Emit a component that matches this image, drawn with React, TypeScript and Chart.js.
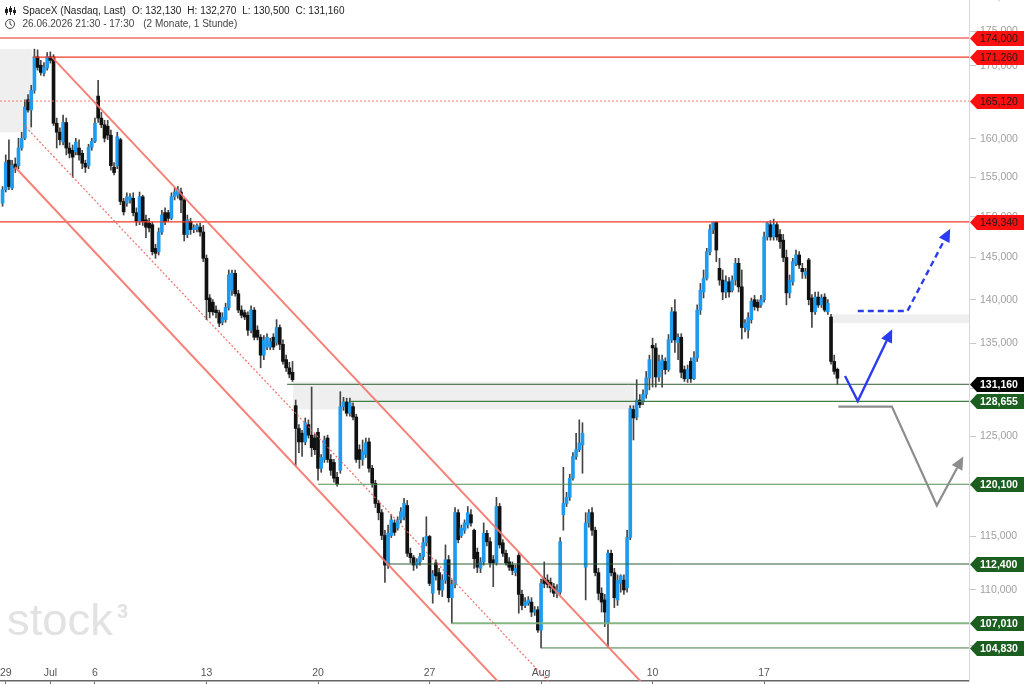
import React, { useEffect, useRef } from "react";
import { Chart, registerables } from "chart.js";

Chart.register(...registerables);

const FONT = 'Arial, "Liberation Sans", Helvetica, sans-serif';
const UP = "#1e9bef";
const DOWN = "#111111";

// ---- hourly candles, prices in thousands (USD) ----
const opens = [
  151.7,153.4,157.2,153.6,156.7,156.5,158.8,160.1,165.3,163.9,
  166.6,171.3,170.1,169.0,169.7,171.3,171.3,162.1,160.9,159.6,
  162.2,158.8,158.5,158.3,158.8,158.1,156.8,156.5,158.9,159.7,
  165.8,162.8,161.9,161.7,160.5,156.3,156.5,159.9,151.9,151.7,
  152.1,152.3,150.5,149.4,152.5,149.6,149.2,149.0,146.1,145.7,
  148.1,150.5,150.5,149.8,152.5,152.7,153.1,152.1,147.8,149.4,
  148.4,148.4,148.7,148.1,144.9,140.2,139.7,138.8,138.5,137.4,
  137.7,139.1,141.1,143.1,140.7,138.8,138.5,138.2,136.5,138.8,
  136.5,135.7,133.7,134.6,134.6,135.7,135.1,136.8,134.9,133.2,
  132.3,131.8,128.2,125.8,125.3,124.4,126.2,125.1,124.8,125.4,
  121.7,122.6,124.8,122.6,122.3,120.8,121.5,128.1,128.6,127.4,
  128.1,127.0,123.6,122.6,123.1,124.4,121.7,120.2,118.2,117.3,
  115.1,112.3,115.1,116.3,115.8,116.6,116.9,118.0,113.4,113.0,
  112.3,112.6,113.1,114.4,115.0,109.7,112.5,111.6,110.0,110.9,
  112.8,109.3,110.5,117.3,115.1,115.6,116.1,117.1,115.6,113.5,
  112.0,112.6,115.3,114.5,112.8,112.5,117.9,114.4,113.4,112.6,
  112.3,111.6,113.2,109.6,108.6,108.8,108.9,108.0,108.2,106.4,
  111.1,110.9,110.7,110.3,109.7,109.8,117.1,118.2,118.8,120.7,
  122.9,123.6,124.1,112.1,116.3,117.3,115.6,111.6,109.7,109.1,
  107.0,113.4,111.6,109.1,110.6,110.9,110.2,114.9,127.8,127.0,
  128.8,128.6,129.4,131.2,134.8,134.5,131.3,132.1,133.0,132.1,
  135.4,138.6,135.1,135.7,132.1,131.1,133.0,131.1,133.4,138.8,
  140.9,142.5,145.7,148.4,149.3,143.7,142.3,140.9,142.1,141.1,
  142.3,144.3,141.5,136.8,136.5,137.7,140.0,139.7,139.4,140.0,
  147.5,149.0,147.5,149.0,147.8,147.1,145.0,140.8,142.1,144.3,
  145.3,143.7,142.9,144.7,140.2,138.6,140.3,139.4,140.3,138.6,
  138.0,133.0,132.13,
];
const highs = [
  153.8,157.9,159.9,157.2,157.5,160.1,160.9,165.3,166.0,167.3,
  172.4,172.3,170.8,170.5,171.9,172.0,171.6,162.8,161.5,163.2,
  162.8,159.5,159.2,160.1,159.9,158.5,157.2,159.3,160.1,162.8,
  168.0,163.6,162.5,162.5,161.2,156.9,160.9,160.1,152.3,153.0,
  152.9,153.0,151.1,153.1,152.7,150.2,149.8,149.3,146.6,148.6,
  150.8,151.1,150.8,153.0,153.6,153.8,153.6,152.3,150.2,149.8,
  149.0,149.1,149.2,148.9,145.3,140.6,140.0,139.3,138.8,138.5,
  139.6,143.5,143.5,143.5,141.1,139.3,138.8,138.6,139.3,139.1,
  137.0,136.0,135.9,136.1,135.6,136.1,137.7,137.1,135.4,133.7,
  132.9,133.0,128.8,126.2,125.6,126.9,126.7,130.2,125.2,125.8,
  123.1,125.0,125.1,123.1,122.6,121.3,129.7,129.1,129.0,129.0,
  128.5,127.3,124.1,124.6,124.8,124.8,122.0,120.5,118.5,117.6,
  115.6,116.1,117.1,116.6,116.9,117.8,118.7,118.5,113.9,113.2,
  112.9,113.4,114.9,116.9,115.1,111.8,112.8,112.0,111.4,114.2,
  113.2,110.9,117.8,117.6,116.1,116.6,117.9,117.6,115.7,113.9,
  113.0,116.3,115.6,114.9,113.2,118.8,118.2,114.7,113.7,113.0,
  112.6,112.3,113.5,110.0,109.3,109.4,109.3,108.5,108.5,111.0,
  112.6,111.4,111.1,110.6,110.5,114.9,121.8,119.3,121.1,123.3,
  125.3,126.7,126.4,117.3,117.6,117.8,115.9,112.0,110.2,109.6,
  113.7,113.7,112.0,111.4,111.4,111.4,115.6,128.2,128.2,131.0,
  129.4,129.9,131.9,133.7,135.6,135.0,133.7,133.7,133.4,136.0,
  139.1,140.0,136.1,136.1,132.5,132.6,133.4,134.1,139.4,141.9,
  143.5,146.1,149.0,149.34,149.34,144.9,143.5,142.8,142.6,142.8,
  144.9,144.9,143.5,137.7,138.5,140.2,140.5,140.0,140.5,148.1,
  149.3,149.5,149.7,149.3,148.4,147.8,145.9,142.9,144.9,145.9,
  145.7,144.3,143.7,144.9,140.6,140.9,140.9,140.6,140.7,140.0,
  138.3,133.7,132.27,
];
const lows = [
  151.3,153.1,153.4,153.4,155.6,156.1,158.5,159.9,163.6,161.6,
  166.2,169.4,168.7,168.6,169.4,170.4,161.8,158.8,159.2,159.2,
  157.9,157.5,155.0,157.9,157.2,156.1,155.6,156.1,158.5,159.5,
  162.2,161.5,159.6,159.9,155.9,155.3,156.1,151.5,150.2,151.3,
  151.7,150.1,148.9,149.0,148.9,147.4,148.1,145.3,144.9,145.3,
  147.8,149.0,149.4,149.6,152.1,152.3,150.5,147.0,147.4,147.8,
  148.0,148.1,147.6,144.5,137.7,137.9,138.2,137.9,136.9,137.1,
  137.4,138.8,140.5,140.4,138.5,137.9,137.7,135.9,136.2,135.4,
  135.4,132.3,133.2,134.3,134.3,134.3,134.8,134.3,132.7,131.9,
  131.2,130.8,122.0,123.3,122.9,124.1,124.8,122.9,123.1,120.5,
  121.3,122.3,122.3,121.0,120.3,119.9,121.2,127.7,127.1,127.1,
  126.7,122.3,121.7,122.0,122.8,121.3,119.8,117.8,116.6,114.7,
  110.7,112.0,114.9,115.1,115.6,116.3,116.6,113.1,112.5,111.8,
  112.0,112.3,112.8,114.1,110.4,108.8,110.9,109.6,109.4,110.6,
  108.9,107.01,110.2,114.4,114.9,115.3,115.8,116.0,112.0,111.6,
  111.6,112.3,114.1,112.1,110.3,112.3,113.9,113.1,112.3,111.8,
  111.4,111.3,107.9,108.2,108.4,108.6,107.6,107.7,106.2,104.83,
  110.2,110.2,109.8,109.4,109.3,109.6,115.6,117.9,118.5,120.5,
  122.6,123.4,121.2,109.1,115.9,115.1,111.3,109.1,108.0,106.7,
  104.9,111.3,108.4,108.6,109.8,109.6,109.8,114.7,124.6,126.7,
  128.0,128.3,129.0,129.9,130.2,130.2,130.8,130.2,131.6,131.9,
  135.1,134.0,133.2,131.2,130.8,130.7,130.7,131.0,133.0,138.3,
  140.2,142.3,145.3,147.9,144.5,141.7,140.0,140.2,140.3,140.9,
  141.7,140.9,135.5,136.3,135.6,137.3,138.8,138.7,139.1,139.7,
  147.1,147.1,147.1,147.1,146.1,144.5,139.4,140.2,141.7,144.0,
  143.7,142.5,142.5,139.4,136.8,138.3,139.1,139.1,138.6,138.3,
  132.7,131.6,130.5,
];
const closes = [
  153.4,156.9,153.8,156.5,156.2,158.8,160.1,164.3,163.9,166.6,
  171.3,169.8,169.1,169.8,171.3,170.8,162.1,160.9,159.9,162.2,
  158.8,158.1,157.6,159.6,157.9,156.8,156.3,158.9,159.7,162.1,
  162.8,161.9,160.1,160.5,156.5,155.6,160.3,151.9,150.6,152.5,
  152.5,150.5,149.4,152.5,149.4,148.7,148.6,145.7,145.5,148.1,
  150.2,149.4,149.8,152.5,153.1,153.4,152.1,147.8,149.6,148.4,
  148.6,148.9,148.1,144.9,140.0,138.6,138.6,138.5,137.3,138.0,
  139.1,142.9,143.1,140.7,138.8,138.2,138.0,136.5,138.8,135.7,
  135.7,133.7,135.4,135.7,135.2,134.6,136.8,134.9,133.0,132.3,
  131.6,131.0,125.8,124.4,124.4,126.4,125.1,123.8,123.6,121.7,
  122.8,124.6,122.6,121.5,120.7,120.1,128.1,128.6,127.4,128.5,
  127.0,122.6,122.6,123.4,124.3,121.7,120.2,118.2,117.3,115.1,
  112.3,115.3,116.6,115.4,116.6,117.4,118.2,113.4,113.0,112.3,
  112.6,113.1,114.4,115.0,110.6,111.5,111.3,110.0,110.9,112.8,
  109.3,110.5,117.3,114.7,115.8,116.3,117.3,116.3,112.9,112.1,
  112.6,115.3,114.5,112.5,112.5,117.9,114.2,113.4,112.5,112.1,
  111.8,112.0,109.6,108.6,108.9,109.1,108.0,108.2,106.4,110.6,
  110.6,110.5,110.2,109.7,110.0,114.5,118.2,118.8,120.7,122.9,
  123.6,124.3,125.3,116.3,117.3,115.6,111.6,109.7,108.9,108.0,
  113.4,111.6,109.3,110.9,111.3,110.0,114.9,127.9,126.9,128.8,
  128.3,129.4,131.2,133.2,134.5,131.3,133.0,133.2,132.1,135.4,
  138.6,135.4,135.7,131.8,131.1,132.1,131.1,133.4,138.8,141.1,
  142.5,145.7,148.4,149.3,145.9,142.3,140.9,142.1,140.9,142.3,
  144.3,141.5,136.8,137.3,137.9,139.8,139.2,139.1,140.0,147.5,
  149.2,147.5,149.0,147.5,146.9,145.0,140.8,142.3,144.5,145.3,
  144.1,143.3,143.3,140.0,138.6,140.3,139.4,140.2,138.8,139.6,
  133.0,131.9,131.16,
];

// ---- time axis (candle index of first bar of each labelled day) ----
const dateLabels = ["29", "Jul", "6", "13", "20", "27", "Aug", "10", "17"];
const dateIdx = [1, 15, 29, 64, 99, 134, 169, 204, 239];

// ---- price axis ticks (thousands) ----
const yTicks = [105, 110, 115, 120, 125, 130, 135, 140, 145, 150, 155, 160, 165, 170, 175, 180];

// ---- horizontal levels (thousands) ----
const levelValues = [174, 171.26, 165.12, 149.34, 130.5, 128.655, 120.1, 112.4, 107.01, 104.83];
const levelStart = [-0.8, 9.5, -0.8, -0.8, 89.3, 109, 99, 120.6, 141, 169];
const levelLabels = [174000, 171260, 165120, 149340, 131160, 128655, 120100, 112400, 107010, 104830];
const levelKinds = ["r", "r", "r", "r", "k", "g", "g", "g", "g", "g"];

// ---- trend channel (index, thousands) ----
const channelX = [[15.5, 202.8], [3.9, 159.4], [6.4, 175.3]];
const channelY = [[171.26, 101.24], [156.32, 100.82], [162.0, 100.82]];

// ---- shaded zones ----
const zoneX0 = [-0.8, 91.2, 260.3];
const zoneX1 = [9.2, 198.2, 303.3];
const zoneLo = [160.9, 127.8, 137.3];
const zoneHi = [172.4, 130.8, 138.3];

// ---- scenario arrows ----
const blueSolidX = [264.4, 268.4, 279.2];
const blueSolidY = [131.4, 128.7, 136.6];
const blueDashX = [268.4, 284.0, 297.4];
const blueDashY = [138.7, 138.7, 148.5];
const grayX = [262.3, 279.1, 293.2, 301.5];
const grayY = [128.1, 128.1, 118.0, 122.9];

const X_MIN = -0.8;
const X_MAX = 303.3;
const Y_MIN = 101.99;
const Y_MAX = 179.58;

const fmt = (v: number) => Math.round(v * 1000).toLocaleString("en-US");

function drawArrow(ctx: any, pts: number[][], color: string, lw: number, dash: number[]) {
  const n = pts.length;
  const [tx, ty] = pts[n - 1];
  const [px, py] = pts[n - 2];
  const ang = Math.atan2(ty - py, tx - px);
  const L = 13;
  const W = 6;
  const bx = tx - L * Math.cos(ang);
  const by = ty - L * Math.sin(ang);
  ctx.save();
  ctx.strokeStyle = color;
  ctx.lineWidth = lw;
  ctx.setLineDash(dash);
  ctx.lineJoin = "miter";
  ctx.beginPath();
  ctx.moveTo(pts[0][0], pts[0][1]);
  for (let i = 1; i < n - 1; i++) ctx.lineTo(pts[i][0], pts[i][1]);
  ctx.lineTo(bx, by);
  ctx.stroke();
  ctx.setLineDash([]);
  ctx.fillStyle = color;
  ctx.beginPath();
  ctx.moveTo(tx, ty);
  ctx.lineTo(bx + W * Math.sin(ang), by - W * Math.cos(ang));
  ctx.lineTo(bx - W * Math.sin(ang), by + W * Math.cos(ang));
  ctx.closePath();
  ctx.fill();
  ctx.restore();
}

const decorPlugin = {
  id: "decor",
  beforeDraw(chart: any) {
    const ctx = chart.ctx;
    ctx.save();
    ctx.fillStyle = "#ffffff";
    ctx.fillRect(0, 0, chart.width, chart.height);
    ctx.restore();
  },
  beforeDatasetsDraw(chart: any) {
    const ctx = chart.ctx;
    const xs = chart.scales.x;
    const ys = chart.scales.y;
    ctx.save();
    ctx.fillStyle = "#efefef";
    for (let i = 0; i < zoneX0.length; i++) {
      const x0 = xs.getPixelForValue(zoneX0[i]);
      const x1 = xs.getPixelForValue(zoneX1[i]);
      const y0 = ys.getPixelForValue(zoneHi[i]);
      const y1 = ys.getPixelForValue(zoneLo[i]);
      ctx.fillRect(x0, y0, x1 - x0, y1 - y0);
    }
    // watermark
    ctx.fillStyle = "#e2e2e2";
    ctx.font = `44px ${FONT}`;
    const w = ctx.measureText("stock").width;
    ctx.save();
    ctx.translate(7, 635);
    ctx.scale(106 / w, 1);
    ctx.textBaseline = "alphabetic";
    ctx.fillText("stock", 0, 0);
    ctx.restore();
    ctx.font = `bold 20px ${FONT}`;
    ctx.fillText("3", 117, 618);
    ctx.restore();
  },
  afterDatasetsDraw(chart: any) {
    const ctx = chart.ctx;
    const xs = chart.scales.x;
    const ys = chart.scales.y;
    const toPts = (X: number[], Y: number[]) =>
      X.map((x, i) => [xs.getPixelForValue(x), ys.getPixelForValue(Y[i])]);
    ctx.save();
    ctx.beginPath();
    ctx.rect(0, 0, chart.width, chart.height);
    ctx.clip();
    drawArrow(ctx, toPts(grayX, grayY), "#8d8d8d", 2.2, []);
    drawArrow(ctx, toPts(blueSolidX, blueSolidY), "#2b3cf0", 2.4, []);
    drawArrow(ctx, toPts(blueDashX, blueDashY), "#2b3cf0", 2.4, [6, 4]);
    ctx.restore();
  },
  afterDraw(chart: any) {
    const ctx = chart.ctx;
    const xs = chart.scales.x;
    const ys = chart.scales.y;
    ctx.save();
    // price tags
    for (let i = 0; i < levelValues.length; i++) {
      const y = Math.round(ys.getPixelForValue(levelValues[i])) + 0.5;
      const kind = levelKinds[i];
      const fill = kind === "r" ? "#ff1010" : kind === "k" ? "#000000" : "#1b5e20";
      ctx.fillStyle = fill;
      ctx.beginPath();
      ctx.moveTo(970, y);
      ctx.lineTo(977, y - 7.5);
      ctx.lineTo(1024, y - 7.5);
      ctx.lineTo(1024, y + 7.5);
      ctx.lineTo(977, y + 7.5);
      ctx.closePath();
      ctx.fill();
      ctx.fillStyle = kind === "r" ? "#1a1a1a" : "#ffffff";
      ctx.font = kind === "r" ? `10.5px ${FONT}` : `bold 10.5px ${FONT}`;
      ctx.textAlign = "left";
      ctx.textBaseline = "middle";
      ctx.fillText(fmt(levelLabels[i] / 1000), 980, y + 0.5);
    }
    // date labels
    ctx.fillStyle = "#555555";
    ctx.font = `10.5px ${FONT}`;
    ctx.textAlign = "center";
    ctx.textBaseline = "middle";
    for (let i = 0; i < dateLabels.length; i++) {
      ctx.fillText(dateLabels[i], xs.getPixelForValue(dateIdx[i]), 673);
    }
    // header
    const last = closes.length - 1;
    ctx.textAlign = "left";
    ctx.font = `10px ${FONT}`;
    ctx.fillStyle = "#222222";
    ctx.fillRect(6, 7, 1, 8);
    ctx.fillRect(5, 9, 3, 4);
    ctx.fillRect(10, 6, 1, 9);
    ctx.fillRect(9, 8, 3, 4);
    ctx.fillRect(14, 7, 1, 8);
    ctx.fillRect(13, 10, 3, 3);
    const parts1 = [
      "SpaceX (Nasdaq, Last)",
      "O: " + fmt(opens[last]),
      "H: " + fmt(highs[last]),
      "L: " + fmt(lows[last]),
      "C: " + fmt(closes[last]),
    ];
    let hx = 22.5;
    for (const p of parts1) {
      ctx.fillText(p, hx, 11);
      hx += ctx.measureText(p).width + 6;
    }
    ctx.fillStyle = "#444444";
    ctx.strokeStyle = "#444444";
    ctx.lineWidth = 1;
    ctx.beginPath();
    ctx.arc(10, 24, 4.5, 0, Math.PI * 2);
    ctx.moveTo(10, 21);
    ctx.lineTo(10, 24);
    ctx.lineTo(12, 25.5);
    ctx.stroke();
    const parts2 = ["26.06.2026 21:30 - 17:30", "(2 Monate, 1 Stunde)"];
    hx = 22.5;
    for (const p of parts2) {
      ctx.fillText(p, hx, 24);
      hx += ctx.measureText(p).width + 9;
    }
    ctx.restore();
  },
};

export default function App() {
  const ref = useRef<HTMLCanvasElement>(null);

  useEffect(() => {
    document.body.style.margin = "0";
    const canvas = ref.current;
    if (!canvas) return;

    const idx = opens.map((_, i) => i);
    const wickData = idx.map((i) => ({ x: i, y: [lows[i], highs[i]] }));
    const bodyData = idx.map((i) => ({ x: i, y: [opens[i], closes[i]] }));
    const bodyColors = idx.map((i) => (closes[i] >= opens[i] ? UP : DOWN));

    const levelColors = [
      "rgba(242,110,100,0.75)", "#f0392b", "rgba(242,110,100,0.9)", "#f0392b",
      "#2f5f34", "#3f7f45", "#4f8f55", "#2f5f34", "rgba(120,175,120,0.9)", "#3f7f45",
    ];
    const levelWidths = [2, 1.2, 1, 1.2, 1, 1.2, 1.2, 1, 2, 1];
    const levelDash = [[], [], [2, 2], [], [], [], [], [], [], []];

    const levelSets = levelValues.map((v, k) => ({
      type: "line",
      data: [{ x: levelStart[k], y: v }, { x: X_MAX + 2, y: v }],
      borderColor: levelColors[k],
      borderWidth: levelWidths[k],
      borderDash: levelDash[k],
      pointRadius: 0,
      order: 2,
    }));

    const channelSets = channelX.map((xx, k) => ({
      type: "line",
      data: [{ x: xx[0], y: channelY[k][0] }, { x: xx[1], y: channelY[k][1] }],
      borderColor: k === 2 ? "rgba(240,95,85,0.9)" : "rgba(245,115,105,0.9)",
      borderWidth: k === 2 ? 1.2 : 2,
      borderDash: k === 2 ? [2, 2] : [],
      pointRadius: 0,
      order: 1,
    }));

    const chart = new Chart(canvas, {
      type: "bar",
      data: {
        datasets: [
          {
            type: "bar",
            data: wickData,
            backgroundColor: "#444444",
            barThickness: 1,
            grouped: false,
            order: 11,
          },
          {
            type: "bar",
            data: bodyData,
            backgroundColor: bodyColors,
            barThickness: 3,
            minBarLength: 1,
            grouped: false,
            order: 10,
          },
          ...levelSets,
          ...channelSets,
        ] as any,
      },
      options: {
        animation: false,
        responsive: false,
        events: [],
        layout: { padding: 0, autoPadding: false },
        plugins: { legend: { display: false }, tooltip: { enabled: false } },
        scales: {
          x: {
            type: "linear",
            min: X_MIN,
            max: X_MAX,
            bounds: "data",
            offset: false,
            position: "bottom",
            grid: { display: true, drawOnChartArea: false, drawTicks: true, tickLength: 3, color: "#666666", offset: false },
            border: { display: true, color: "#666666", width: 1.5 },
            ticks: { display: false },
            afterBuildTicks: (s: any) => {
              s.ticks = dateIdx.map((v) => ({ value: v }));
            },
            afterFit: (s: any) => {
              s.height = 3;
              s.paddingLeft = 0;
              s.paddingRight = 0;
            },
          },
          y: {
            type: "logarithmic",
            position: "right",
            min: Y_MIN,
            max: Y_MAX,
            bounds: "data",
            grid: { display: true, drawOnChartArea: false, drawTicks: true, tickLength: 7, color: "#c8c8c8" },
            border: { display: true, color: "#d8d8d8", width: 1 },
            ticks: {
              color: "#a0a0a0",
              font: { family: FONT, size: 10.5 },
              padding: 4,
              autoSkip: false,
              callback: (v: any) => fmt(Number(v)),
            },
            afterBuildTicks: (s: any) => {
              s.ticks = yTicks.map((v) => ({ value: v }));
            },
            afterFit: (s: any) => {
              s.width = 55;
              s.paddingTop = 0;
              s.paddingBottom = 0;
            },
          },
        },
      } as any,
      plugins: [decorPlugin],
    });

    return () => chart.destroy();
  }, []);

  return (
    <canvas
      ref={ref}
      width={1024}
      height={684}
      style={{ position: "absolute", left: 0, top: 0, width: 1024, height: 684 }}
    />
  );
}
